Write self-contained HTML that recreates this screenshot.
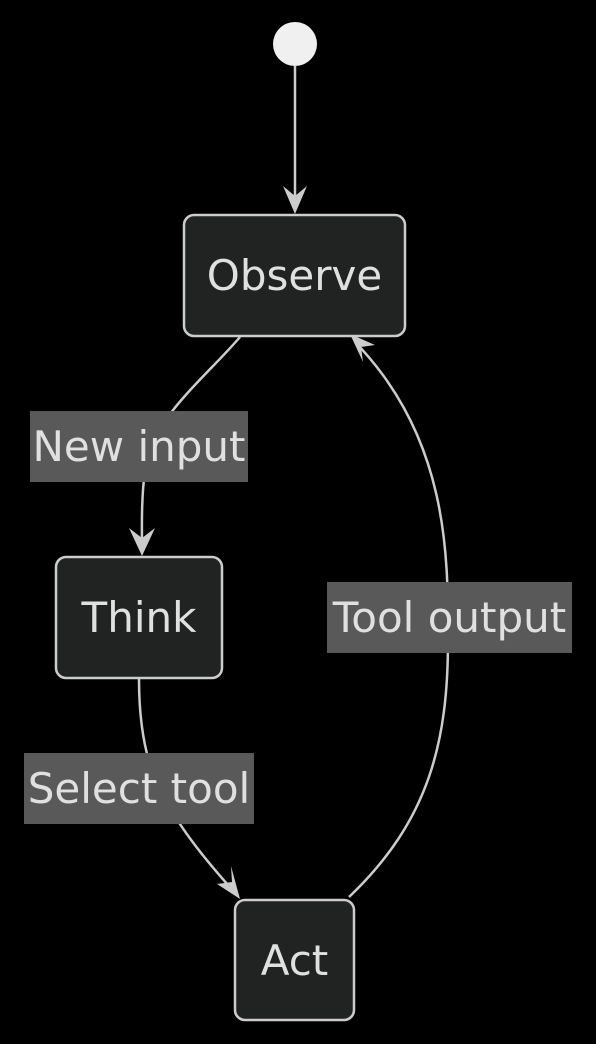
<!DOCTYPE html>
<html><head><meta charset="utf-8"><style>
html,body{margin:0;padding:0;background:#000;}
svg{display:block;}
text{font-family:"DejaVu Sans","Liberation Sans",sans-serif;font-size:42px;fill:#e0e0e0;}
</style></head><body>
<svg width="596" height="1044" viewBox="0 0 596 1044" xmlns="http://www.w3.org/2000/svg">
<circle cx="295" cy="44" r="22" fill="#f0f0f0"/>
<g fill="none" stroke="#ccc" stroke-width="2.5">
<path d="M295,66 L295,206"/>
<path d="M240,337 C205,378 150,420 145,470 C141,500 142,530 142,550"/>
<path d="M139,679 C139,720 145,760 160,790 C180,830 210,865 236,894"/>
<path d="M349,897 C430,820 448,740 448,640 C448,560 450,440 355,342"/>
</g>
<g fill="#ccc">
<path d="M295,214 L283,186 L295,196 L307,186 Z"/>
<path d="M142,556 L129,528 L142,538 L155,528 Z"/>
<path d="M240,899 L217,884 L232,882 L231,866 Z"/>
<path d="M350,334 L375,345 L361,347 L363,362 Z"/>
</g>
<g fill="#212222" stroke="#ccc" stroke-width="2.5">
<rect x="184" y="215" width="221" height="121" rx="10"/>
<rect x="56" y="557" width="166" height="121" rx="10"/>
<rect x="235" y="900" width="119" height="120" rx="10"/>
</g>
<g fill="#595959">
<rect x="30" y="411" width="218" height="71"/>
<rect x="327" y="582" width="245" height="71"/>
<rect x="24" y="753" width="230" height="71"/>
</g>
<g text-anchor="middle">
<text x="294.5" y="290">Observe</text>
<text x="139" y="632">Think</text>
<text x="294.5" y="975">Act</text>
<text x="139" y="461">New input</text>
<text x="449.5" y="632">Tool output</text>
<text x="139" y="803">Select tool</text>
</g>
</svg>
</body></html>
